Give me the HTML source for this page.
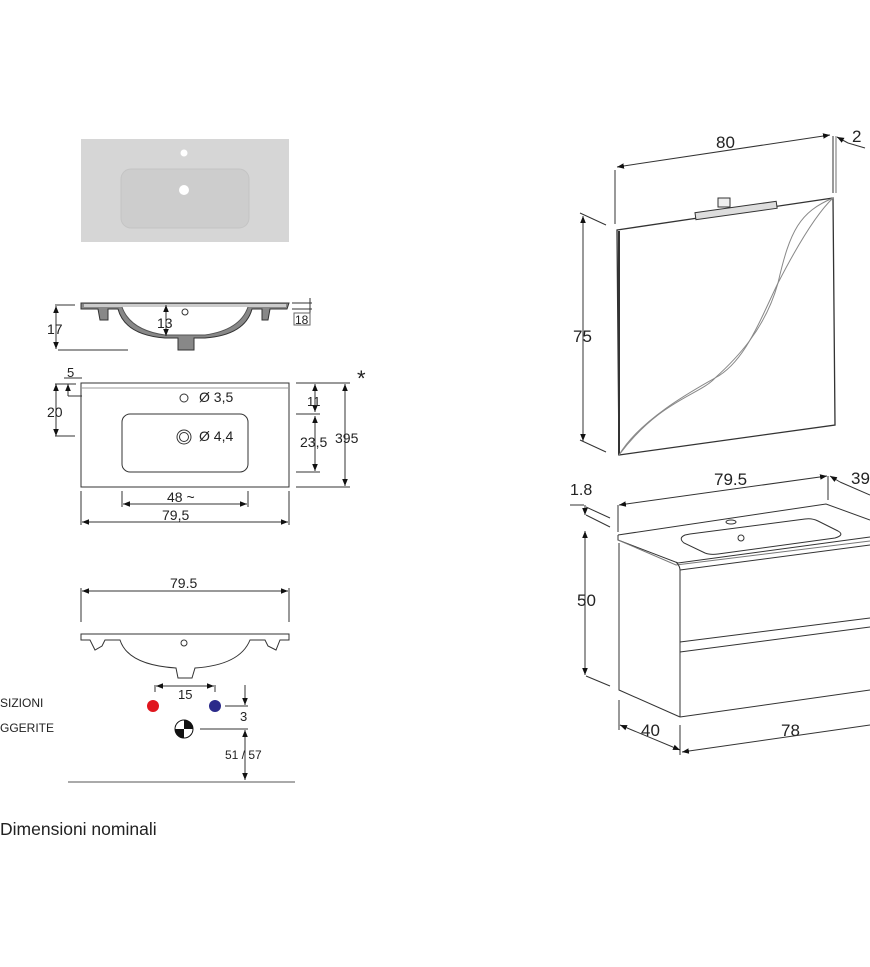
<!DOCTYPE html>
<html><head><style>html,body{margin:0;padding:0;background:#fff}svg{display:block}text{font-family:"Liberation Sans",sans-serif;fill:#222}</style></head><body>
<svg width="870" height="967" viewBox="0 0 870 967" xmlns="http://www.w3.org/2000/svg">
<defs><marker id="a" viewBox="0 0 10 10" refX="10" refY="5" markerWidth="7" markerHeight="7" orient="auto-start-reverse"><path d="M0,1 L10,5 L0,9z" fill="#111"/></marker></defs>
<rect x="81" y="139" width="208" height="103" fill="#d6d6d6"/>
<rect x="121" y="169" width="128" height="59" rx="10" fill="#cdcdcd" stroke="#c4c4c4"/>
<circle cx="184" cy="153" r="3.5" fill="#fff"/><circle cx="184" cy="190" r="5" fill="#fff"/>
<g stroke="#333" stroke-width="1" fill="none">
<path d="M81,303 L289,303 L287,309 L270,309 L268,320 L262,320 L262,309 L252,309 Q245,335 205,338 L194,338 L194,350 L178,350 L178,338 L165,338 Q125,335 118,309 L108,309 L108,320 L100,320 L98,309 L81,309z" fill="#888"/>
<path d="M84,304 L286,304 L286,307 L84,307z" fill="#ccc" stroke="none"/>
<path d="M122,307 Q130,330 165,335 L205,335 Q240,330 248,307" fill="#fff" stroke="#555"/>
<circle cx="185" cy="312" r="3"/>
<line x1="55" y1="305" x2="75" y2="305"/><line x1="58" y1="350" x2="128" y2="350"/>
<line x1="56" y1="306" x2="56" y2="349" marker-start="url(#a)" marker-end="url(#a)"/>
<line x1="166" y1="305" x2="166" y2="336" marker-start="url(#a)" marker-end="url(#a)"/>
<line x1="292" y1="303" x2="312" y2="303"/><line x1="292" y1="309" x2="312" y2="309"/><line x1="310" y1="298" x2="310" y2="324"/>
<rect x="294" y="313" width="16" height="12" stroke="#666"/>
<rect x="81" y="383" width="208" height="104"/>
<line x1="81" y1="388" x2="289" y2="388" stroke="#999"/>
<rect x="122" y="414" width="126" height="58" rx="8"/>
<circle cx="184" cy="398" r="4"/><circle cx="184" cy="437" r="7"/><circle cx="184" cy="437" r="4.5"/>
<line x1="64" y1="378" x2="82" y2="378"/><line x1="68" y1="384" x2="68" y2="396" marker-start="url(#a)"/><line x1="68" y1="396" x2="82" y2="396"/>
<line x1="55" y1="384" x2="76" y2="384"/><line x1="56" y1="384" x2="56" y2="436" marker-start="url(#a)" marker-end="url(#a)"/><line x1="55" y1="436" x2="75" y2="436"/>
<line x1="296" y1="383" x2="350" y2="383"/><line x1="296" y1="414" x2="320" y2="414"/><line x1="296" y1="472" x2="320" y2="472"/><line x1="296" y1="487" x2="350" y2="487"/>
<line x1="315" y1="384" x2="315" y2="412" marker-start="url(#a)" marker-end="url(#a)"/>
<line x1="315" y1="416" x2="315" y2="471" marker-start="url(#a)" marker-end="url(#a)"/>
<line x1="345" y1="384" x2="345" y2="486" marker-start="url(#a)" marker-end="url(#a)"/>
<line x1="122" y1="491" x2="122" y2="507"/><line x1="248" y1="491" x2="248" y2="507"/><line x1="123" y1="504" x2="247" y2="504" marker-start="url(#a)" marker-end="url(#a)"/>
<line x1="81" y1="491" x2="81" y2="525"/><line x1="289" y1="491" x2="289" y2="525"/><line x1="82" y1="522" x2="288" y2="522" marker-start="url(#a)" marker-end="url(#a)"/>
<line x1="81" y1="588" x2="81" y2="622"/><line x1="289" y1="588" x2="289" y2="622"/><line x1="82" y1="591" x2="288" y2="591" marker-start="url(#a)" marker-end="url(#a)"/>
<path d="M81,634 L289,634 L289,640 L280,640 L276,650 L268,646 L265,640 L250,640 Q240,665 195,668 L192,678 L178,678 L176,668 Q128,665 120,640 L105,640 L102,646 L95,650 L90,640 L81,640z"/>
<circle cx="184" cy="643" r="3"/>
<line x1="155" y1="685" x2="155" y2="692"/><line x1="215" y1="685" x2="215" y2="692"/><line x1="156" y1="686" x2="214" y2="686" marker-start="url(#a)" marker-end="url(#a)"/>
<line x1="225" y1="706" x2="248" y2="706"/><line x1="245" y1="685" x2="245" y2="705" marker-end="url(#a)"/>
<line x1="200" y1="729" x2="248" y2="729"/><line x1="245" y1="730" x2="245" y2="780" marker-start="url(#a)" marker-end="url(#a)"/>
<line x1="68" y1="782" x2="295" y2="782" stroke="#555"/>
</g>
<circle cx="153" cy="706" r="6" fill="#e0161e"/><circle cx="215" cy="706" r="6" fill="#2b2a8a"/>
<circle cx="184" cy="729" r="9" fill="#fff" stroke="#111"/>
<path d="M184,720 A9,9 0 0 1 193,729 L184,729z M184,738 A9,9 0 0 1 175,729 L184,729z" fill="#111"/>
<g font-size="14">
<text x="157" y="328">13</text><text x="47" y="334">17</text><text x="295" y="324" font-size="12">18</text>
<text x="67" y="377" font-size="13">5</text><text x="47" y="417">20</text>
<text x="199" y="402">Ø 3,5</text><text x="199" y="441">Ø 4,4</text>
<text x="307" y="406" font-size="13">11</text><text x="300" y="447">23,5</text><text x="335" y="443">395</text>
<text x="357" y="386" font-size="22">*</text>
<text x="167" y="502">48 ~</text><text x="162" y="520">79,5</text>
<text x="170" y="588" fill="#444">79.5</text>
<text x="178" y="699" font-size="13">15</text><text x="240" y="721" font-size="13">3</text><text x="225" y="759" font-size="12">51 / 57</text>
<text x="0" y="707" font-size="12">SIZIONI</text><text x="0" y="732" font-size="12">GGERITE</text>
<text x="0" y="835" font-size="17.5">Dimensioni nominali</text>
<text x="716" y="148" font-size="17">80</text><text x="852" y="142" font-size="17">2</text>
<text x="573" y="342" font-size="17">75</text>
<text x="570" y="495" font-size="16">1.8</text><text x="714" y="485" font-size="17">79.5</text><text x="851" y="484" font-size="17">39</text>
<text x="577" y="606" font-size="17">50</text><text x="641" y="736" font-size="17">40</text><text x="781" y="736" font-size="17">78</text>
</g>
<g stroke="#333" stroke-width="1" fill="none">
<line x1="615" y1="170" x2="615" y2="224"/><line x1="833" y1="136" x2="833" y2="193"/><line x1="836" y1="136" x2="836" y2="193" stroke-width=".7"/>
<line x1="617" y1="167" x2="830" y2="135" marker-start="url(#a)" marker-end="url(#a)"/>
<line x1="837" y1="137" x2="848" y2="143" marker-start="url(#a)"/><line x1="848" y1="143" x2="865" y2="148"/>
<path d="M617,230 L833,198 L835,425 L619,455z" stroke-width="1.3"/>
<line x1="619" y1="231" x2="619" y2="455" stroke-width="2"/>
<path d="M619,455 C640,420 690,392 715,378 C745,362 760,320 778,283 C795,250 815,215 833,198" stroke="#888"/>
<path d="M619,455 C660,400 700,395 715,378 C735,360 765,330 778,283 C790,230 800,212 833,198" stroke="#888"/>
<rect x="695" y="207" width="82" height="7" fill="#ddd" transform="rotate(-8 736 210)"/>
<rect x="718" y="198" width="12" height="9" fill="#eee"/>
<line x1="580" y1="213" x2="606" y2="225"/><line x1="580" y1="440" x2="606" y2="452"/>
<line x1="583" y1="216" x2="583" y2="441" marker-start="url(#a)" marker-end="url(#a)"/>
<line x1="618" y1="505" x2="618" y2="532"/><line x1="828" y1="476" x2="828" y2="500"/>
<line x1="619" y1="505" x2="827" y2="476" marker-start="url(#a)" marker-end="url(#a)"/>
<line x1="830" y1="476" x2="840" y2="482" marker-start="url(#a)"/><line x1="840" y1="482" x2="870" y2="495"/>
<path d="M618,535 L826,504 L870,520"/>
<path d="M618,535 L618,540 L678,563 L870,537"/><path d="M618,540 L676,565 L870,541" stroke="#777"/>
<path d="M676,562 Q680,566 680,570 L680,717"/>
<path d="M619,543 L619,690 L680,717"/>
<path d="M680,570 L870,545"/><path d="M680,642 L870,618"/><path d="M680,652 L870,627"/><path d="M680,717 L870,690"/>
<path d="M685,535 Q678,538 684,543 L705,553 Q710,555 718,554 L835,538 Q845,535 838,531 L818,521 Q812,518 805,519 L690,534z"/>
<circle cx="741" cy="538" r="3"/><ellipse cx="731" cy="522" rx="5" ry="2"/>
<line x1="570" y1="505" x2="584" y2="505"/><line x1="586" y1="507" x2="610" y2="518"/><line x1="586" y1="515" x2="610" y2="527"/>
<line x1="585" y1="505" x2="585" y2="515" marker-end="url(#a)"/>
<line x1="585" y1="531" x2="585" y2="675" marker-start="url(#a)" marker-end="url(#a)"/>
<line x1="586" y1="676" x2="610" y2="686"/>
<line x1="619" y1="700" x2="619" y2="730"/><line x1="680" y1="725" x2="680" y2="755"/>
<line x1="620" y1="725" x2="680" y2="750" marker-start="url(#a)" marker-end="url(#a)"/>
<line x1="682" y1="752" x2="870" y2="725" marker-start="url(#a)"/>
</g>
</svg>
</body></html>
